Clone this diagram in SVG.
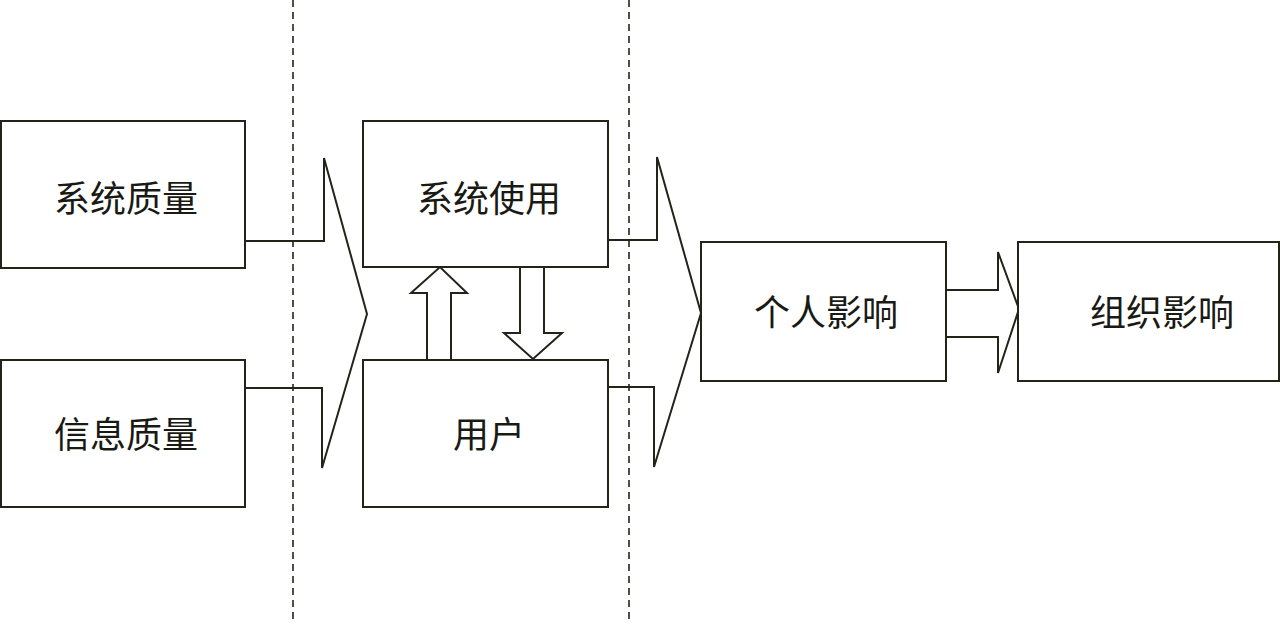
<svg xmlns="http://www.w3.org/2000/svg" width="1280" height="624" viewBox="0 0 1280 624">
<style>
.box{fill:#fff;stroke:#23231a;stroke-width:2}
.ln{fill:none;stroke:#23231a;stroke-width:2;stroke-linejoin:miter}
.dash{fill:none;stroke:#23231a;stroke-width:1.6;stroke-dasharray:7,5}
text{font-family:"Noto Sans CJK SC","Noto Sans CJK JP",sans-serif;font-size:36px;fill:#1a1a14;text-anchor:middle;dominant-baseline:central}
</style>
<rect width="1280" height="624" fill="#fff"/>
<g id="dividers">
<line class="dash" x1="293" y1="0" x2="293" y2="624"/>
<line class="dash" x1="629" y1="0" x2="629" y2="624"/>
</g>
<g id="connectors">
<polyline class="ln" points="245,241 324,241 324,158 367,314 322,468 322,388 245,388"/>
<polyline class="ln" points="608,240 657,240 657,157 701,313 654,467 654,387 608,387"/>
<polyline class="ln" points="946,290 998,290 998,252 1019,309 998,373 998,337 946,337"/>
<polygon class="ln" points="427,360 427,293 411,293 440,267 467,293 451,293 451,360"/>
<polygon class="ln" points="520,267 520,333 504,333 533,359 562,333 544,333 544,267"/>
</g>
<g id="n1"><rect class="box" x="1" y="121" width="244" height="147"/><text x="126" y="196">系统质量</text></g>
<g id="n2"><rect class="box" x="1" y="360" width="244" height="147"/><text x="126" y="432">信息质量</text></g>
<g id="n3"><rect class="box" x="363" y="121" width="245" height="146"/><text x="489" y="196">系统使用</text></g>
<g id="n4"><rect class="box" x="363" y="360" width="245" height="147"/><text x="489" y="432">用户</text></g>
<g id="n5"><rect class="box" x="701" y="242" width="245" height="139"/><text x="826" y="310">个人影响</text></g>
<g id="n6"><rect class="box" x="1018" y="242" width="261" height="139"/><text x="1162" y="310">组织影响</text></g>
</svg>
